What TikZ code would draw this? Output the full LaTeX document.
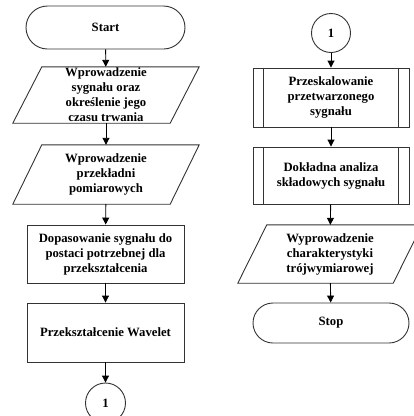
\documentclass[tikz,border=0pt]{standalone}
\usepackage{fontspec}
\setmainfont{Liberation Serif}
\usetikzlibrary{shapes.misc,arrows.meta}
\definecolor{linec}{gray}{0.2}
\tikzset{
  lbl/.style={inner sep=0pt, align=center, font=\bfseries\fontsize{12.7}{15}\selectfont},
  outl/.style={draw=linec, line width=0.9pt},
  term/.style={lbl, outl, rounded rectangle, minimum width=159pt, minimum height=43pt},
  procbox/.style={lbl, outl, rectangle, minimum width=157pt, minimum height=58pt},
  iobox/.style={lbl, rectangle, minimum width=157pt, minimum height=57pt},
  conn/.style={lbl, outl, circle, minimum size=39pt},
  flow/.style={draw=black, line width=0.9pt, -{Triangle[length=7pt,width=7pt]}}
}
\newcommand{\paraout}[1]{%
  \draw[outl] ([xshift=14.5pt]#1.north west) -- ([xshift=14.5pt]#1.north east)
    -- ([xshift=-14.5pt]#1.south east) -- ([xshift=-14.5pt]#1.south west) -- cycle;}
\newcommand{\subout}[1]{%
  \draw[outl] ([xshift=11pt]#1.north west) -- ([xshift=11pt]#1.south west);
  \draw[outl] ([xshift=-11pt]#1.north east) -- ([xshift=-11pt]#1.south east);}
\begin{document}
\begin{tikzpicture}[x=1pt,y=-1pt]
\useasboundingbox (0,0) rectangle (414,416);
\clip (0,0) rectangle (414,416);
\fill[white] (0,0) rectangle (414,416);
% left column
\node[term] (start) at (105.5,27.5) {Start};
\node[iobox, minimum height=56pt] (p1) at (106,95) {Wprowadzenie\\sygnału oraz\\określenie jego\\czasu trwania};
\paraout{p1}
\node[iobox, minimum height=59pt] (p2) at (106,174.5) {Wprowadzenie\\przekładni\\pomiarowych};
\paraout{p2}
\node[procbox] (r1) at (105.5,254) {Dopasowanie sygnału do\\postaci potrzebnej dla\\przekształcenia};
\node[procbox, minimum height=59pt] (r2) at (105.5,332.5) {Przekształcenie Wavelet};
\node[conn, minimum size=40pt] (c1) at (105.5,403) {1};
% right column
\node[conn] (c2) at (331,33) {1};
\node[procbox, minimum width=156pt, minimum height=59pt] (s1) at (331,97.5) {Przeskalowanie\\przetwarzonego\\sygnału};
\subout{s1}
\node[procbox, minimum width=156pt, minimum height=57pt] (s2) at (331,175.5) {Dokładna analiza\\składowych sygnału};
\subout{s2}
\node[iobox, minimum width=155pt, minimum height=58pt] (p3) at (330,254) {Wyprowadzenie\\charakterystyki\\trójwymiarowej};
\paraout{p3}
\node[term, minimum width=156pt, minimum height=40pt] (stop) at (331,323) {Stop};
% connectors
\draw[flow] (start) -- (p1);
\draw[flow] (p1) -- (p2);
\draw[flow] (p2) -- (r1);
\draw[flow] (r1) -- (r2);
\draw[flow] (r2) -- (c1);
\draw[flow] (c2) -- (s1);
\draw[flow] (s1) -- (s2);
\draw[flow] (s2) -- (p3);
\draw[flow] (p3) -- (stop);
\end{tikzpicture}
\end{document}
